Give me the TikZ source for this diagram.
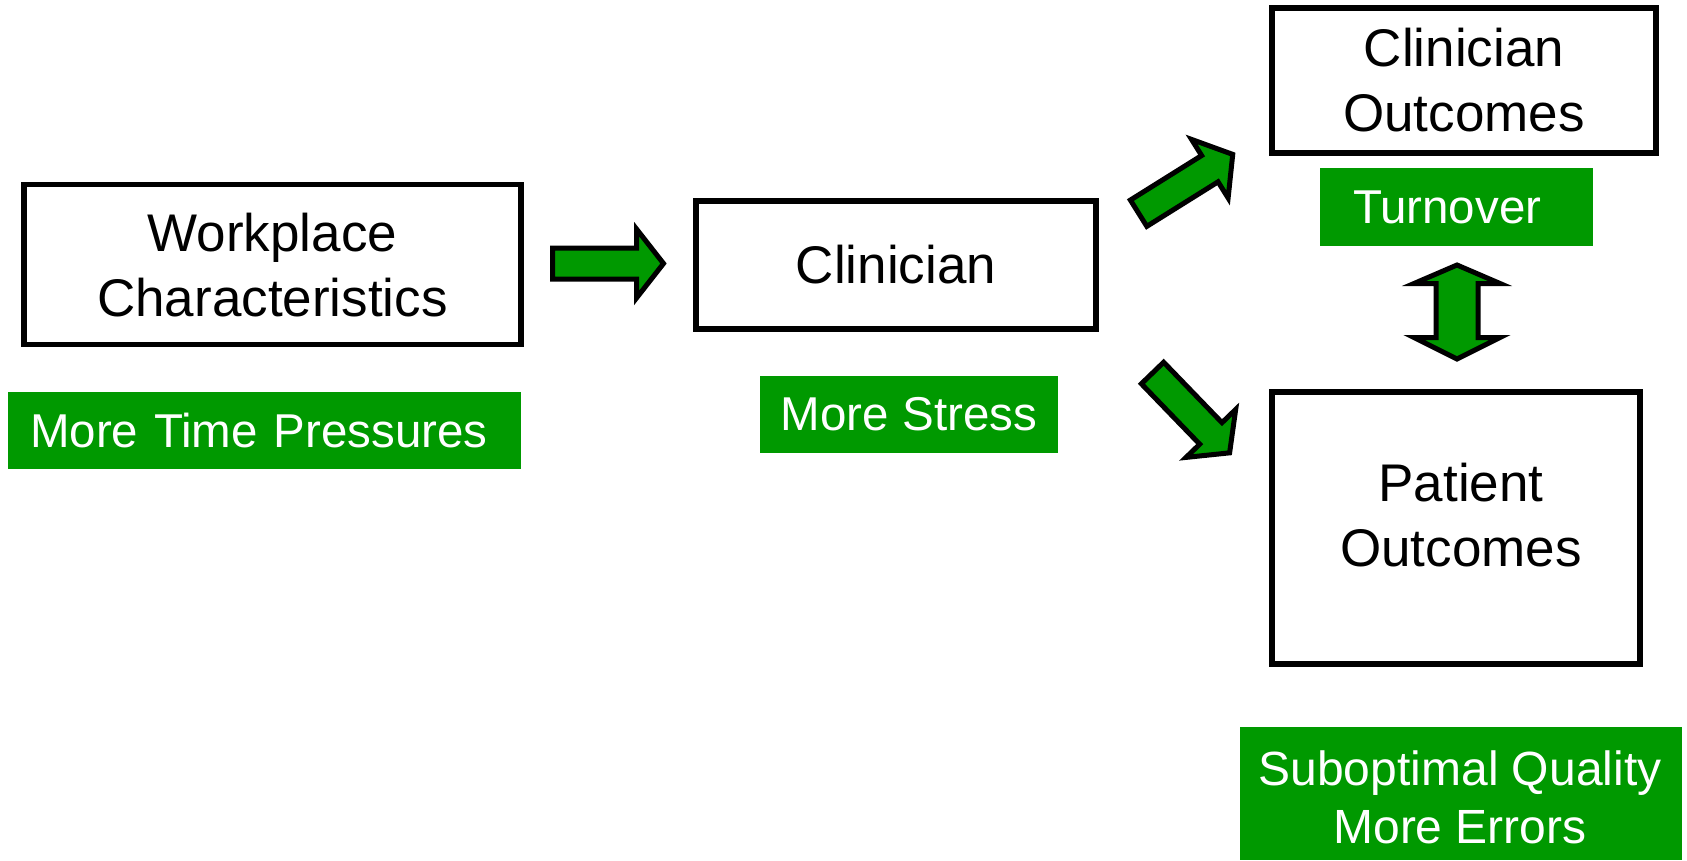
\documentclass[tikz,border=0pt]{standalone}
\usepackage{fontspec}
\setmainfont{Liberation Sans}
\definecolor{tagGreen}{RGB}{0,153,0}
\begin{document}
\begin{tikzpicture}[x=1pt,y=-1pt,
  box/.style={draw=black, line width=5.5pt, fill=white, align=center, inner sep=0pt,
    font=\fontsize{53}{65}\selectfont},
  boxtext/.style={align=center, inner sep=0pt, font=\fontsize{53}{65}\selectfont},
  tag/.style={fill=tagGreen, text=white, inner sep=0pt, align=center,
    font=\fontsize{47.5}{57.5}\selectfont},
  tagtext/.style={text=white, inner sep=0pt, align=center, font=\fontsize{47.5}{57.5}\selectfont},
  blockarrow/.style={draw=black, fill=tagGreen, line width=5pt, line join=miter}]

\useasboundingbox (0,0) rectangle (1687,860);

% main boxes
\node[box, minimum width=496.6pt, minimum height=160pt] (work) at (272.5,264.6) {Workplace\\Characteristics};
\node[box, minimum width=400pt, minimum height=128pt] (clin) at (896,265) {Clinician};
\node[box, minimum width=384pt, minimum height=145pt] (cout) at (1464,80.5) {Clinician\\Outcomes};
\node[box, minimum width=368pt, minimum height=272pt] (pout) at (1456,528) {};
\node[boxtext] (pouttext) at (1461,515.5) {Patient\\Outcomes};

% green tags
\node[tag, align=left, text width=469.3pt, inner xsep=21.7pt, minimum height=77.3pt] (time) at (264.7,430.3) {More Time Pressures};
\node[tag, minimum width=298pt, minimum height=77pt] (stress) at (909,414.5) {More Stress};
\node[tag, align=left, text width=207pt, inner xsep=33pt, minimum height=78pt] (turn) at (1456.5,207) {Turnover};
\node[tag, minimum width=442pt, minimum height=133pt] (qual) at (1461,793.5) {};
\node[tagtext, font=\fontsize{48}{58}\selectfont] (qualtext) at (1460,797) {Suboptimal Quality\\More Errors};

% block arrows
\begin{scope}[shift={(552.5,263.5)}]
  \draw[blockarrow] (0,-15.5) -- (84,-15.5) -- (84,-34.5) -- (111,0) -- (84,34.5) -- (84,15.5) -- (0,15.5) -- cycle;
\end{scope}
\begin{scope}[shift={(1138.6,213.2)}, rotate=32]
  \draw[blockarrow] (0,-15.5) -- (84,-15.5) -- (84,-34.5) -- (111,0) -- (84,34.5) -- (84,15.5) -- (0,15.5) -- cycle;
\end{scope}
\begin{scope}[shift={(1152.5,373)}, rotate=-46]
  \draw[blockarrow] (0,-15.5) -- (84,-15.5) -- (84,-34.5) -- (111,0) -- (84,34.5) -- (84,15.5) -- (0,15.5) -- cycle;
\end{scope}

% two-headed arrow between the outcome boxes
\draw[blockarrow] (1457,265) -- (1500,283.5) -- (1478,283.5) -- (1478,337.5) -- (1500,337.5) -- (1457,359)
  -- (1414,337.5) -- (1436,337.5) -- (1436,283.5) -- (1414,283.5) -- cycle;
\end{tikzpicture}
\end{document}
